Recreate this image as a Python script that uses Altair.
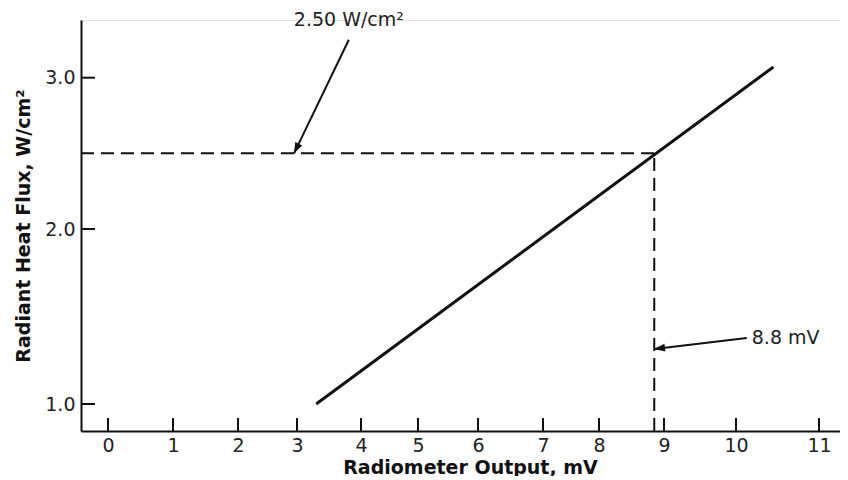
import altair as alt
import pandas as pd

# ---- data ----
x_ticks = list(range(12))
y_ticks = [1.0, 2.0, 3.0]
line_x = [3.3, 10.45]
line_y = [1.0, 3.07]
ref_x = 8.85
ref_y = 2.5
x_min, x_max = -0.415, 11.25
y_min, y_max = 0.846, 3.38

arrow_x = [3.81, 10.13]
arrow_y = [3.25, 1.377]
arrow_x2 = [2.95, 8.85]
arrow_y2 = [2.5, 1.314]
arrow_angle = [206, 263]

label1 = "2.50 W/cm²"
label1_x, label1_y = 3.81, 3.38
label2 = "8.8 mV"
label2_x, label2_y = 10.19, 1.377

FONT = "DejaVu Sans"
INK = "#111111"
W, H = 759, 411

# piecewise scales follow the hand-drawn tick spacing of the original figure
xs = alt.Scale(domain=[x_min] + x_ticks + [x_max],
               range=[0, 27, 92, 157, 216, 280, 337, 397, 462, 518, 583, 655, 738, W],
               zero=False, nice=False)
ys = alt.Scale(domain=[y_min] + y_ticks + [y_max],
               range=[H, 384, 209, 57.7, 0],
               zero=False, nice=False)

xaxis = alt.Axis(values=x_ticks, ticks=False, grid=False, domainColor=INK, domainWidth=2,
                 labelFont=FONT, labelFontSize=19, labelColor="#222222", labelPadding=5,
                 title="Radiometer Output, mV", titleFont=FONT, titleFontSize=19,
                 titleFontWeight="bold", titleColor=INK, titlePadding=3, titleX=389)
yaxis = alt.Axis(values=y_ticks, ticks=False, grid=False, domainColor=INK, domainWidth=2,
                 format=".1f", labelFont=FONT, labelFontSize=19, labelColor="#222222",
                 labelPadding=6, title="Radiant Heat Flux, W/cm²", titleFont=FONT,
                 titleFontSize=19, titleFontWeight="bold", titleColor=INK, titlePadding=11)

line_df = pd.DataFrame({"x": line_x, "y": line_y})
main = alt.Chart(line_df).mark_line(color=INK, strokeWidth=3).encode(
    x=alt.X("x:Q", scale=xs, axis=xaxis),
    y=alt.Y("y:Q", scale=ys, axis=yaxis),
)

hdash = alt.Chart(pd.DataFrame({"x": [x_min], "x2": [ref_x], "y": [ref_y]})).mark_rule(
    color=INK, strokeWidth=2, strokeDash=[13, 7]).encode(
    x=alt.X("x:Q", scale=xs, axis=xaxis), x2="x2:Q",
    y=alt.Y("y:Q", scale=ys, axis=yaxis))

vdash = alt.Chart(pd.DataFrame({"x": [ref_x], "y": [y_min], "y2": [ref_y]})).mark_rule(
    color=INK, strokeWidth=2, strokeDash=[13, 7]).encode(
    x=alt.X("x:Q", scale=xs, axis=xaxis),
    y=alt.Y("y:Q", scale=ys, axis=yaxis), y2="y2:Q")

arrows_df = pd.DataFrame({"x": arrow_x, "y": arrow_y, "x2": arrow_x2, "y2": arrow_y2,
                          "angle": arrow_angle})
shafts = alt.Chart(arrows_df).mark_rule(color=INK, strokeWidth=2).encode(
    x=alt.X("x:Q", scale=xs, axis=xaxis), x2="x2:Q",
    y=alt.Y("y:Q", scale=ys, axis=yaxis), y2="y2:Q")

heads = alt.Chart(arrows_df).mark_point(
    shape="M0,0L-0.4,1.1L0.4,1.1Z", filled=True, color=INK, size=380, opacity=1).encode(
    x=alt.X("x2:Q", scale=xs, axis=xaxis),
    y=alt.Y("y2:Q", scale=ys, axis=yaxis),
    angle=alt.Angle("angle:Q", scale=None))

t1 = alt.Chart(pd.DataFrame({"x": [label1_x], "y": [label1_y], "t": [label1]})).mark_text(
    font=FONT, fontSize=19, color="#222222", align="center", baseline="middle").encode(
    x=alt.X("x:Q", scale=xs, axis=xaxis), y=alt.Y("y:Q", scale=ys, axis=yaxis), text="t:N")

t2 = alt.Chart(pd.DataFrame({"x": [label2_x], "y": [label2_y], "t": [label2]})).mark_text(
    font=FONT, fontSize=19, color="#222222", align="left", baseline="middle").encode(
    x=alt.X("x:Q", scale=xs, axis=xaxis), y=alt.Y("y:Q", scale=ys, axis=yaxis), text="t:N")

xtick_marks = alt.Chart(pd.DataFrame({"v": x_ticks})).mark_rule(color=INK, strokeWidth=2).encode(
    x=alt.X("v:Q", scale=xs, axis=xaxis), y=alt.value(H), y2=alt.value(H - 13))

ytick_marks = alt.Chart(pd.DataFrame({"v": y_ticks})).mark_rule(color=INK, strokeWidth=2).encode(
    y=alt.Y("v:Q", scale=ys, axis=yaxis), x=alt.value(0), x2=alt.value(14))

chart = alt.layer(main, hdash, vdash, shafts, heads, t1, t2, xtick_marks, ytick_marks).properties(
    width=W, height=H,
    autosize=alt.AutoSizeParams(type="none"),
    padding={"left": 73, "top": 12, "right": 0, "bottom": 45},
).configure_view(stroke=None).configure(background="white")

chart.save("out.html", embed_options={"renderer": "svg", "actions": False})
